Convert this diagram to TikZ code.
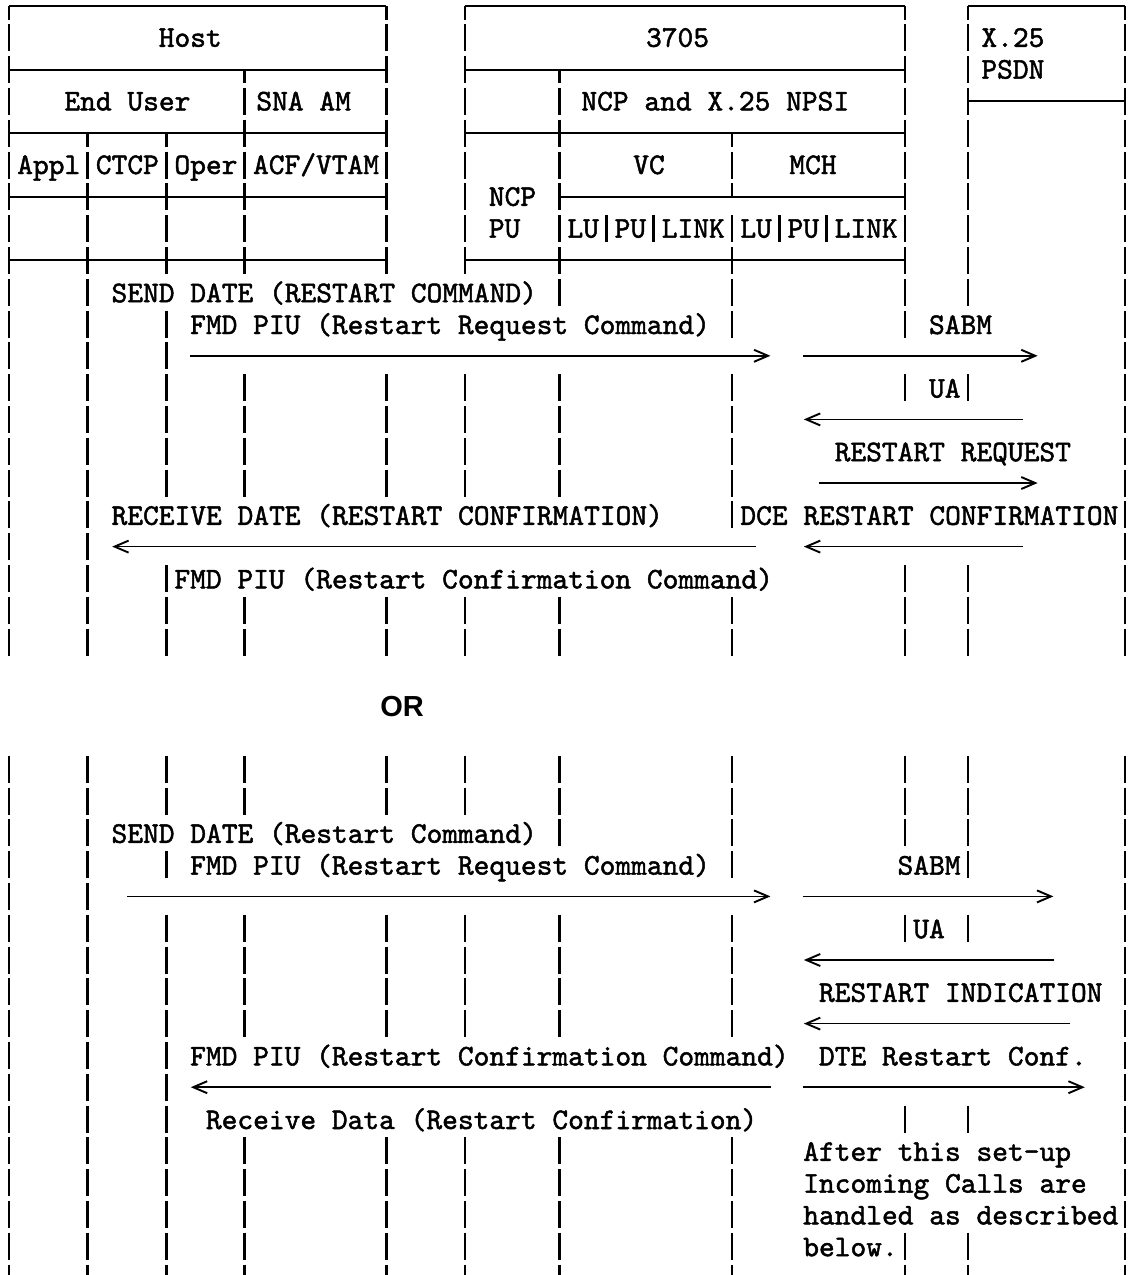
\documentclass[tikz,border=0pt]{standalone}
\usepackage{fontspec}
\newfontfamily\labelsans{Liberation Sans}
\newfontfamily\typewriter{lmmono10-regular}[Extension=.otf, FakeBold=1.6]
\usetikzlibrary{arrows.meta}
\frenchspacing

% character grid of the typewritten chart (units: one picture unit)
\newcommand\colX[1]{(9+15.72*(#1))}
\newcommand\colL[1]{(1.14+15.72*(#1))}
\newcommand\colR[1]{(16.86+15.72*(#1))}
\newcommand\rowY[1]{(6+31.8*(#1))}

% one typed bar per line, a full cell high or only its lower/upper half
\newcommand\lifeseg[2]{\foreach \c in {#2}{\draw[lifeline] ({\colX{\c}},{\rowY{#1}-13.5}) -- ++(0,27);}}
\newcommand\lifesegdown[2]{\foreach \c in {#2}{\draw[lifeline] ({\colX{\c}},{\rowY{#1}}) -- ++(0,13.5);}}
\newcommand\lifesegup[2]{\foreach \c in {#2}{\draw[lifeline] ({\colX{\c}},{\rowY{#1}-13.5}) -- ++(0,13.5);}}
% horizontal frame rule on line #1 from column #2 to column #3
\newcommand\framerule[3]{\draw[frame] ({\colX{#2}},{\rowY{#1}}) -- ({\colX{#3}},{\rowY{#1}});}

\tikzset{
  lifeline/.style={line width=1.35pt, line cap=butt},
  frame/.style={line width=1pt},
  msg/.style={line width=0.8pt, -{Straight Barb[length=7pt,width=6pt,line width=0.95pt]}},
  txt/.style={anchor=base west, inner sep=0pt, font=\fontsize{15}{18}\selectfont\typewriter},
  txtc/.style={txt, anchor=base},
  orlabel/.style={inner sep=0pt, font=\fontsize{14.5}{17}\selectfont\labelsans\bfseries}
}

\begin{document}
\begin{tikzpicture}[x=0.5pt, y=-0.5pt]
\useasboundingbox (0,0) rectangle (1134,1275);
\clip (0,0) rectangle (1134,1275);
\fill[white] (0,0) rectangle (1134,1275);

% ---------------- header boxes ----------------
\framerule{0}{0}{24}  \framerule{2}{0}{24}  \framerule{4}{0}{24}
\framerule{6}{0}{24}  \framerule{8}{0}{24}
\framerule{0}{29}{57} \framerule{2}{29}{57} \framerule{4}{29}{57}
\framerule{6}{35}{57} \framerule{8}{29}{57}
\framerule{0}{61}{71} \framerule{3}{61}{71}

\lifesegdown{0}{0,24,29,57,61,71}
\lifeseg{1}{0,24,29,57,61,71}
\lifeseg{2}{0,24,29,57,61,71}
\lifesegdown{2}{15,35}
\lifeseg{3}{0,15,24,29,35,57,61,71}
\lifeseg{4}{0,15,24,29,35,57,61,71}
\lifesegdown{4}{5,10,46}
\lifeseg{5}{0,5,10,15,24,29,35,46,57,61,71}
\lifeseg{6}{0,5,10,15,24,29,35,57,61,71}
\lifesegup{6}{46}
\lifeseg{7}{0,5,10,15,24,29,35,38,41,46,49,52,57,61,71}
\lifeseg{8}{0,5,10,15,24,29,35,46,57,61,71}

\node[txt] (host) at ({\colL{10}},{\rowY{1}+9}) {Host};
\node[txt] (fep) at ({\colL{41}},{\rowY{1}+9}) {3705};
\node[txt] (x25) at (981,{\rowY{1}+9}) {X.25};
\node[txt] (psdn) at (981,{\rowY{2}+9}) {PSDN};
\node[txt] (enduser) at ({\colL{4}},{\rowY{3}+9}) {End User};
\node[txt] (snaam) at (256,{\rowY{3}+9}) {SNA AM};
\node[txt] (npsi) at (581,{\rowY{3}+9}) {NCP and X.25 NPSI};
\node[txt] (appl) at ({\colL{1}},{\rowY{5}+9}) {Appl};
\node[txt] (ctcp) at ({\colL{6}},{\rowY{5}+9}) {CTCP};
\node[txt] (oper) at ({\colL{11}},{\rowY{5}+9}) {Oper};
\node[txt] (vtam) at ({\colL{16}},{\rowY{5}+9}) {ACF/VTAM};
\node[txtc] (vc) at (649,{\rowY{5}+9}) {VC};
\node[txtc] (mch) at (813,{\rowY{5}+9}) {MCH};
\node[txt] (ncp) at ({\colL{31}},{\rowY{6}+9}) {NCP};
\node[txt] (ncppu) at ({\colL{31}},{\rowY{7}+9}) {PU};
\node[txt] (vclu) at ({\colL{36}},{\rowY{7}+9}) {LU};
\node[txt] (vcpu) at ({\colL{39}},{\rowY{7}+9}) {PU};
\node[txt] (vclink) at ({\colL{42}},{\rowY{7}+9}) {LINK};
\node[txt] (mchlu) at ({\colL{47}},{\rowY{7}+9}) {LU};
\node[txt] (mchpu) at ({\colL{50}},{\rowY{7}+9}) {PU};
\node[txt] (mchlink) at ({\colL{53}},{\rowY{7}+9}) {LINK};

% ---------------- first sequence ----------------
\lifeseg{9}{0,5,35,46,57,61,71}
\lifeseg{10}{0,5,10,46,57,71}
\lifeseg{11}{0,5,10,71}
\lifeseg{12}{0,5,10,15,24,29,35,46,57,61,71}
\lifeseg{13}{0,5,10,15,24,29,35,46,71}
\lifeseg{14}{0,5,10,15,24,29,35,46,71}
\lifeseg{15}{0,5,10,15,24,29,35,46,71}
\lifeseg{16}{0,5,46,71}
\lifeseg{17}{0,5,71}
\lifeseg{18}{0,5,10,57,61,71}
\lifeseg{19}{0,5,10,15,24,29,35,46,57,61,71}
\lifeseg{20}{0,5,10,15,24,29,35,46,57,61,71}

\node[txt] (senda) at ({\colL{7}},{\rowY{9}+10}) {SEND DATE (RESTART COMMAND)};
\node[txt] (fmda) at ({\colL{12}},{\rowY{10}+10}) {FMD PIU (Restart Request Command)};
\node[txt] (sabma) at ({\colL{59}},{\rowY{10}+10}) {SABM};
\node[txt] (uaa) at ({\colL{59}},{\rowY{12}+10}) {UA};
\node[txt] (rreq) at ({\colL{53}},{\rowY{14}+10}) {RESTART REQUEST};
\node[txt] (recva) at ({\colL{7}},{\rowY{16}+10}) {RECEIVE DATE (RESTART CONFIRMATION)};
\node[txt] (dce) at ({\colL{47}},{\rowY{16}+10}) {DCE RESTART CONFIRMATION};
\node[txt] (fmdca) at ({\colL{11}},{\rowY{18}+10}) {FMD PIU (Restart Confirmation Command)};

\coordinate (a11s) at ({\colL{12}},{\rowY{11}});
\coordinate (a11e) at ({\colR{48}-1},{\rowY{11}});
\coordinate (b11s) at ({\colL{51}},{\rowY{11}});
\coordinate (b11e) at ({\colR{65}-1},{\rowY{11}});
\coordinate (b13s) at ({\colR{64}},{\rowY{13}});
\coordinate (b13e) at ({\colL{51}+1},{\rowY{13}});
\coordinate (b15s) at ({\colL{52}},{\rowY{15}});
\coordinate (b15e) at ({\colR{65}-1},{\rowY{15}});
\coordinate (a17s) at ({\colR{47}},{\rowY{17}});
\coordinate (a17e) at ({\colL{7}+1},{\rowY{17}});
\coordinate (b17s) at ({\colR{64}},{\rowY{17}});
\coordinate (b17e) at ({\colL{51}+1},{\rowY{17}});
\draw[msg] (a11s) -- (a11e);
\draw[msg] (b11s) -- (b11e);
\draw[msg] (b13s) -- (b13e);
\draw[msg] (b15s) -- (b15e);
\draw[msg] (a17s) -- (a17e);
\draw[msg] (b17s) -- (b17e);

\node[orlabel] (or) at (402,707) {OR};

% ---------------- second sequence ----------------
\lifeseg{24}{0,5,10,15,24,29,35,46,57,61,71}
\lifeseg{25}{0,5,10,15,24,29,35,46,57,61,71}
\lifeseg{26}{0,5,35,46,57,61,71}
\lifeseg{27}{0,5,10,46,61,71}
\lifeseg{28}{0,5,71}
\lifeseg{29}{0,5,10,15,24,29,35,46,57,61,71}
\lifeseg{30}{0,5,10,15,24,29,35,46,71}
\lifeseg{31}{0,5,10,15,24,29,35,46,71}
\lifeseg{32}{0,5,10,15,24,29,35,46,71}
\lifeseg{33}{0,5,10,71}
\lifeseg{34}{0,5,10,71}
\lifeseg{35}{0,5,10,57,61,71}
\lifeseg{36}{0,5,10,15,24,29,35,46,71}
\lifeseg{37}{0,5,10,15,24,29,35,46,71}
\lifeseg{38}{0,5,10,15,24,29,35,46,71}
\lifeseg{39}{0,5,10,15,24,29,35,46,57,61,71}
\lifeseg{40}{0,5,10,15,24,29,35,46,57,61,71}

\node[txt] (sendb) at ({\colL{7}},{\rowY{26}+10}) {SEND DATE (Restart Command)};
\node[txt] (fmdb) at ({\colL{12}},{\rowY{27}+10}) {FMD PIU (Restart Request Command)};
\node[txt] (sabmb) at ({\colL{57}},{\rowY{27}+10}) {SABM};
\node[txt] (uab) at ({\colL{58}},{\rowY{29}+10}) {UA};
\node[txt] (rind) at ({\colL{52}},{\rowY{31}+10}) {RESTART INDICATION};
\node[txt] (fmdcb) at ({\colL{12}},{\rowY{33}+10}) {FMD PIU (Restart Confirmation Command)};
\node[txt] (dte) at ({\colL{52}},{\rowY{33}+10}) {DTE Restart Conf.};
\node[txt] (recvb) at ({\colL{13}},{\rowY{35}+10}) {Receive Data (Restart Confirmation)};
\node[txt] (note1) at ({\colL{51}},{\rowY{36}+10}) {After this set-up};
\node[txt] (note2) at ({\colL{51}},{\rowY{37}+10}) {Incoming Calls are};
\node[txt] (note3) at ({\colL{51}},{\rowY{38}+10}) {handled as described};
\node[txt] (note4) at ({\colL{51}},{\rowY{39}+10}) {below.};

\coordinate (a28s) at ({\colL{8}},{\rowY{28}});
\coordinate (a28e) at ({\colR{48}-1},{\rowY{28}});
\coordinate (b28s) at ({\colL{51}},{\rowY{28}});
\coordinate (b28e) at ({\colR{66}-1},{\rowY{28}});
\coordinate (b30s) at ({\colR{66}},{\rowY{30}});
\coordinate (b30e) at ({\colL{51}+1},{\rowY{30}});
\coordinate (b32s) at ({\colR{67}},{\rowY{32}});
\coordinate (b32e) at ({\colL{51}+1},{\rowY{32}});
\coordinate (a34s) at ({\colR{48}},{\rowY{34}});
\coordinate (a34e) at ({\colL{12}+1},{\rowY{34}});
\coordinate (b34s) at ({\colL{51}},{\rowY{34}});
\coordinate (b34e) at ({\colR{68}-1},{\rowY{34}});
\draw[msg] (a28s) -- (a28e);
\draw[msg] (b28s) -- (b28e);
\draw[msg] (b30s) -- (b30e);
\draw[msg] (b32s) -- (b32e);
\draw[msg] (a34s) -- (a34e);
\draw[msg] (b34s) -- (b34e);
\end{tikzpicture}
\end{document}
